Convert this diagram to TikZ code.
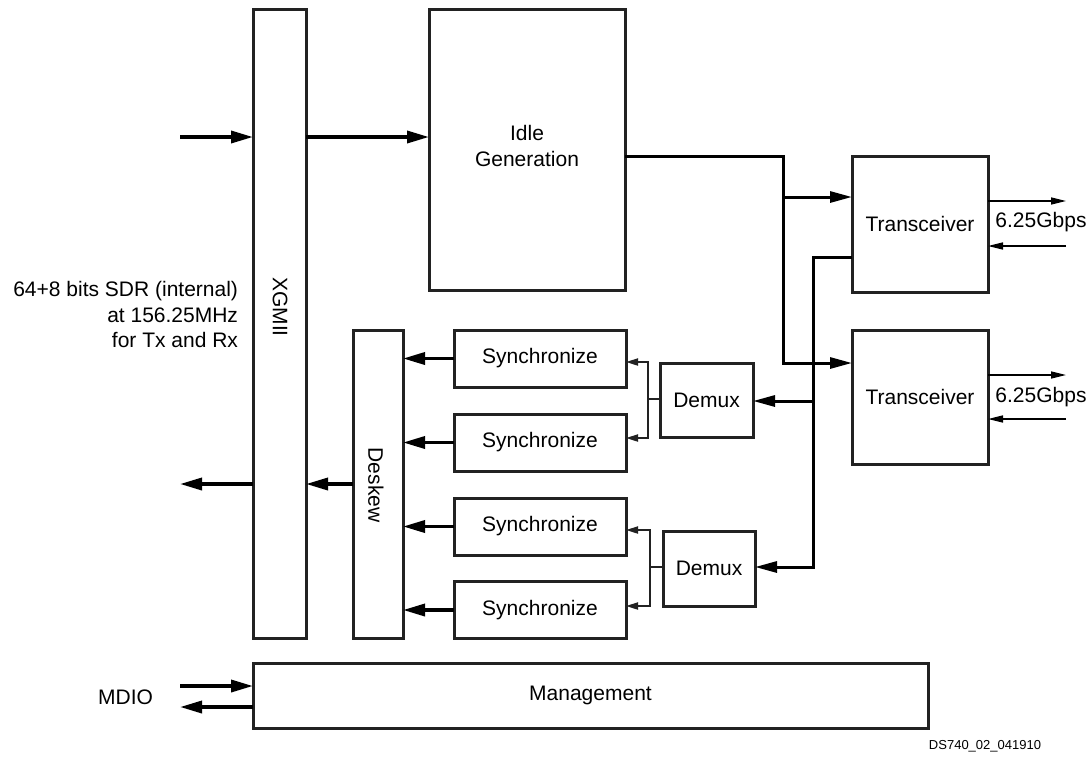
\documentclass[tikz,border=0pt]{standalone}
\usepackage{fontspec}
\setmainfont{Liberation Sans}
\usetikzlibrary{arrows.meta}
\definecolor{boxc}{HTML}{222222}
\begin{document}
\begin{tikzpicture}[x=1pt,y=-1pt,
  every node/.style={font=\fontsize{21}{25.5}\selectfont, inner sep=0pt, outer sep=0pt},
  blk/.style={draw=boxc, line width=3pt, fill=white},
  thickarr/.style={line width=3.5pt, -{Triangle[length=22pt,width=12pt]}},
  medarr/.style={line width=3pt, line join=miter, -{Triangle[length=22pt,width=11pt]}},
  medline/.style={line width=3pt},
  thinarr/.style={line width=2pt, draw=boxc, line join=miter, -{Triangle[length=12pt,width=7pt]}},
  linkarr/.style={line width=1.5pt, -{Triangle[length=15pt,width=7pt]}}
]
\useasboundingbox (0,0) rectangle (1092,756);

% blocks
\node[blk, minimum width=53pt, minimum height=629pt] (xg) at (279.5,323.5) {};
\node[rotate=-90] (xgt) at (280,307) {XGMII};
\node[blk, minimum width=196pt, minimum height=281pt] (idle) at (527,149.5) {};
\node[align=center] (idlet) at (527,146) {Idle\\Generation};
\node[blk, minimum width=136pt, minimum height=136pt] (t1) at (920,224) {Transceiver};
\node[blk, minimum width=136pt, minimum height=134pt] (t2) at (920,397) {Transceiver};
\node[blk, minimum width=93pt, minimum height=74pt] (dm1) at (706.5,400) {Demux};
\node[blk, minimum width=92pt, minimum height=75pt] (dm2) at (709,568.5) {Demux};
\node[blk, minimum width=172pt, minimum height=57pt] (s1) at (540,358.5) {Synchronize};
\node[blk, minimum width=172pt, minimum height=57pt] (s2) at (540,442.5) {Synchronize};
\node[blk, minimum width=172pt, minimum height=57pt] (s3) at (540,526.5) {Synchronize};
\node[blk, minimum width=172pt, minimum height=57pt] (s4) at (540,610) {Synchronize};
\node[blk, minimum width=50pt, minimum height=308pt] (dk) at (378,484) {};
\node[rotate=-90] (dkt) at (376,485) {Deskew};
\node[blk, minimum width=675pt, minimum height=65pt] (mg) at (590.5,695.5) {Management};

% labels
\node[anchor=east, align=right] (lbl) at (238,314.5) {64+8 bits SDR (internal)\\at 156.25MHz\\for Tx and Rx};
\node[anchor=east] (mdio) at (153,697) {MDIO};
\node (g1) at (1041,222) {6.25Gbps};
\node (g2) at (1041,397) {6.25Gbps};
\node[font=\fontsize{13}{15}\selectfont] (ds) at (985,746) {DS740\_02\_041910};

% XGMII in/out
\coordinate (inx) at (180,137);
\draw[thickarr] (inx) -- (inx -| xg.west);
\draw[thickarr] (xg.east |- inx) -- (idle.west |- inx);
\coordinate (outx) at (180,484);
\draw[thickarr] (xg.west |- outx) -- (outx);
\draw[thickarr] (dk.west |- outx) -- (xg.east |- outx);

% sync -> deskew
\draw[thickarr] (s1.west) -- (s1.west -| dk.east);
\draw[thickarr] (s2.west) -- (s2.west -| dk.east);
\draw[thickarr] (s3.west) -- (s3.west -| dk.east);
\draw[thickarr] (s4.west) -- (s4.west -| dk.east);

% idle -> transceivers
\coordinate (j1) at (783,156);
\coordinate (j2) at (783,197);
\coordinate (j3) at (783,363);
\draw[medarr] (idle.east |- j1) -- (j1) -- (j3) -- (j3 -| t2.west);
\draw[medarr] (j2) -- (j2 -| t1.west);

% transceiver -> demux
\coordinate (k1) at (813,257);
\coordinate (k2) at (813,401);
\coordinate (k3) at (813,567);
\draw[medarr] (t1.west |- k1) -- (k1) -- (k3) -- (k3 -| dm2.east);
\draw[medarr] (k2) -- (k2 -| dm1.east);

% demux -> sync
\coordinate (d1) at (648,399);
\coordinate (d1a) at (648,362);
\coordinate (d1b) at (648,438);
\draw[thinarr] (dm1.west |- d1) -- (d1) -- (d1a) -- (d1a -| s1.east);
\draw[thinarr] (d1) -- (d1b) -- (d1b -| s2.east);
\coordinate (d2) at (650,567);
\coordinate (d2a) at (650,530);
\coordinate (d2b) at (650,606);
\draw[thinarr] (dm2.west |- d2) -- (d2) -- (d2a) -- (d2a -| s3.east);
\draw[thinarr] (d2) -- (d2b) -- (d2b -| s4.east);

% serial links
\coordinate (r1o) at (1066,201);
\coordinate (r1i) at (1066,246);
\coordinate (r2o) at (1066,375);
\coordinate (r2i) at (1066,419);
\draw[linkarr] (t1.east |- r1o) -- (r1o);
\draw[linkarr] (r1i) -- (r1i -| t1.east);
\draw[linkarr] (t2.east |- r2o) -- (r2o);
\draw[linkarr] (r2i) -- (r2i -| t2.east);

% MDIO
\coordinate (m1) at (180,686);
\coordinate (m2) at (180,707);
\draw[thickarr] (m1) -- (m1 -| mg.west);
\draw[thickarr] (mg.west |- m2) -- (m2);
\end{tikzpicture}
\end{document}
